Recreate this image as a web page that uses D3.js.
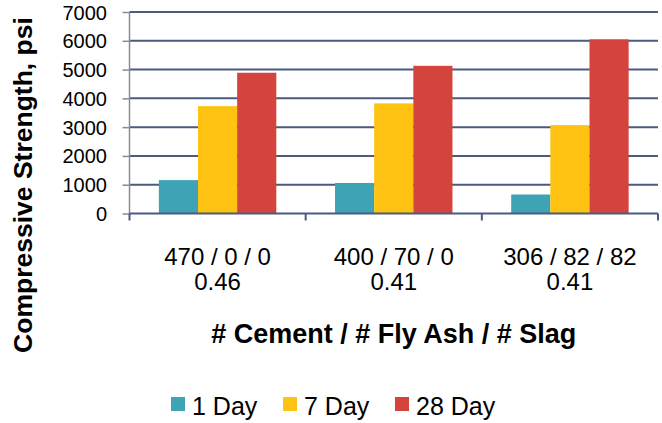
<!DOCTYPE html>
<html>
<head>
<meta charset="utf-8">
<script src="https://cdn.jsdelivr.net/npm/d3@7"></script>
<style>
  body { margin: 0; background: #fff; }
  svg { font-family: "Liberation Sans", Arial, sans-serif; }
</style>
</head>
<body>
<svg id="chart" width="662" height="423"></svg>
<script>
// chart values
const catLine1 = ["470 / 0 / 0", "400 / 70 / 0", "306 / 82 / 82"];
const catLine2 = ["0.46", "0.41", "0.41"];
const seriesNames = ["1 Day", "7 Day", "28 Day"];
const day1 = [1160, 1060, 660];
const day7 = [3730, 3825, 3070];
const day28 = [4890, 5130, 6050];
const yTicks = [0, 1000, 2000, 3000, 4000, 5000, 6000, 7000];
const colors = ["#3ea3b5", "#fdc212", "#d4443c"];

const seriesValues = [day1, day7, day28];
const svg = d3.select("#chart");

const plotLeft = 129.5, plotRight = 658, plotTop = 12, plotBottom = 213.5;

// scales
const x = d3.scaleBand().domain(d3.range(catLine1.length)).range([plotLeft, plotRight]);
const xSub = d3.scaleBand().domain(seriesNames).range([0, x.bandwidth()])
  .paddingInner(0).paddingOuter(0.75);
const y = d3.scaleLinear().domain([0, 7000]).range([plotBottom, plotTop]);
const color = d3.scaleOrdinal().domain(seriesNames).range(colors);

// gridlines
svg.append("g")
  .selectAll("line.grid")
  .data(yTicks.filter(d => d > 0))
  .join("line")
  .classed("grid", true)
  .attr("x1", plotLeft).attr("x2", plotRight)
  .attr("y1", d => y(d)).attr("y2", d => y(d))
  .attr("stroke", "#4a5b80")
  .attr("stroke-width", 2);

// bars
const rows = [];
catLine1.forEach((c, i) => {
  seriesNames.forEach((s, j) => rows.push({ cat: i, series: s, value: seriesValues[j][i] }));
});
svg.append("g")
  .selectAll("rect")
  .data(rows)
  .join("rect")
  .attr("x", d => x(d.cat) + xSub(d.series))
  .attr("width", xSub.bandwidth())
  .attr("y", d => y(d.value))
  .attr("height", d => y(0) - y(d.value))
  .attr("fill", d => color(d.series));

// y axis
const yAxis = svg.append("g")
  .attr("transform", `translate(${plotLeft},0)`)
  .call(d3.axisLeft(y).tickValues(yTicks).tickSize(7).tickPadding(15.5).tickFormat(d3.format("d")));
yAxis.select(".domain").attr("stroke", "#8c8c8c").attr("stroke-width", 1.5)
  .attr("d", `M0,${plotTop}V${plotBottom}`);
yAxis.selectAll(".tick line").attr("stroke", "#8c8c8c").attr("stroke-width", 1.5);
yAxis.selectAll(".tick text").attr("fill", "#000").style("font-size", "20px").attr("dy", "0.35em");

// x axis line with category ticks
svg.append("line")
  .attr("x1", plotLeft).attr("x2", plotRight)
  .attr("y1", y(0)).attr("y2", y(0))
  .attr("stroke", "#4a5b80").attr("stroke-width", 2);
const bounds = d3.range(catLine1.length + 1).map(i => plotLeft + i * x.step());
svg.append("g")
  .selectAll("line")
  .data(bounds)
  .join("line")
  .attr("x1", d => d).attr("x2", d => d)
  .attr("y1", y(0)).attr("y2", y(0) + 7)
  .attr("stroke", "#4a5b80").attr("stroke-width", 2);

// category labels (two lines)
const catG = svg.append("g").style("font-size", "24px").attr("text-anchor", "middle");
catG.selectAll("text.l1")
  .data(catLine1)
  .join("text")
  .classed("l1", true)
  .attr("x", (d, i) => x(i) + x.bandwidth() / 2)
  .attr("y", 265)
  .text(d => d);
catG.selectAll("text.l2")
  .data(catLine2)
  .join("text")
  .classed("l2", true)
  .attr("x", (d, i) => x(i) + x.bandwidth() / 2)
  .attr("y", 290)
  .text(d => d);

// axis titles
svg.append("text")
  .attr("x", (plotLeft + plotRight) / 2).attr("y", 343)
  .attr("text-anchor", "middle")
  .style("font-size", "27px").style("font-weight", "bold")
  .text("# Cement / # Fly Ash / # Slag");
svg.append("text")
  .attr("transform", "translate(32,185) rotate(-90)")
  .attr("text-anchor", "middle")
  .style("font-size", "26.5px").style("font-weight", "bold")
  .text("Compressive Strength, psi");

// legend
const legendX = [171, 283, 395];
const legend = svg.append("g")
  .selectAll("g")
  .data(seriesNames)
  .join("g")
  .attr("transform", (d, i) => `translate(${legendX[i]},397)`);
legend.append("rect")
  .attr("width", 14).attr("height", 14)
  .attr("fill", d => color(d));
legend.append("text")
  .attr("x", 21).attr("y", 18)
  .style("font-size", "25px")
  .text(d => d);
</script>
</body>
</html>
